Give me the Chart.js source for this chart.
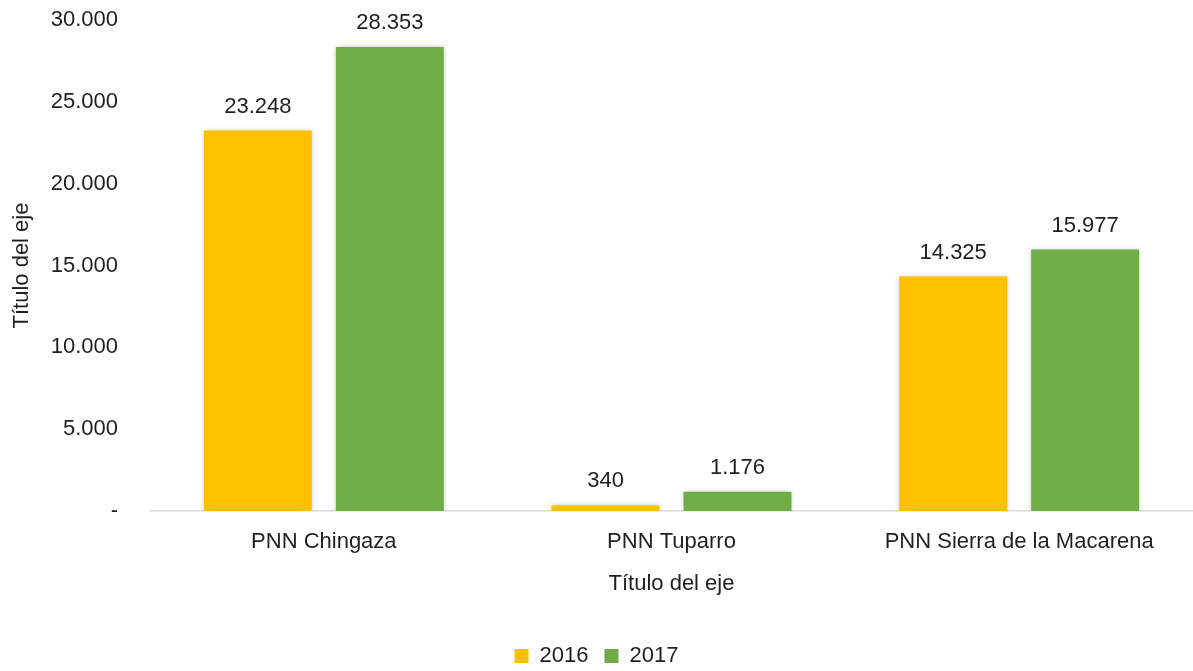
<!DOCTYPE html>
<html>
<head>
<meta charset="utf-8">
<script src="https://cdn.jsdelivr.net/npm/chart.js@4.4.1/dist/chart.umd.min.js"></script>
<style>
  html, body { margin: 0; padding: 0; background: #ffffff; }
  #wrap { width: 1193px; height: 671px; position: relative; }
</style>
</head>
<body>
<div id="wrap"><canvas id="c"></canvas></div>
<script>
const categories = ["PNN Chingaza", "PNN Tuparro", "PNN Sierra de la Macarena"];
const seriesNames = ["2016", "2017"];
const values2016 = [23248, 340, 14325];
const values2017 = [28353, 1176, 15977];
const yTicks = [0, 5000, 10000, 15000, 20000, 25000, 30000];
const axisTitleX = "Título del eje";
const axisTitleY = "Título del eje";

const FONT = "'Liberation Sans', Arial, sans-serif";
const FS = 22;
const TEXT = "#1f1f1f";

function fmt(v) {
  if (v === 0) return "-";
  return String(Math.round(v)).replace(/\B(?=(\d{3})+(?!\d))/g, ".");
}

const shadowPlugin = {
  id: "barShadow",
  beforeDatasetsDraw(chart) {
    const ctx = chart.ctx;
    ctx.save();
    ctx.shadowColor = "rgba(0,0,0,0.28)";
    ctx.shadowBlur = 5;
    ctx.shadowOffsetX = 0;
    ctx.shadowOffsetY = 0;
  },
  afterDatasetsDraw(chart) {
    chart.ctx.restore();
  }
};

const labelPlugin = {
  id: "valueLabels",
  afterDatasetsDraw(chart) {
    const ctx = chart.ctx;
    ctx.save();
    ctx.font = FS + "px " + FONT;
    ctx.fillStyle = TEXT;
    ctx.textAlign = "center";
    ctx.textBaseline = "alphabetic";
    chart.data.datasets.forEach((ds, i) => {
      const meta = chart.getDatasetMeta(i);
      meta.data.forEach((bar, j) => {
        ctx.fillText(fmt(ds.data[j]), bar.x, bar.y - 18);
      });
    });
    ctx.restore();
  }
};

new Chart(document.getElementById("c"), {
  type: "bar",
  data: {
    labels: categories,
    datasets: [
      { label: seriesNames[0], data: values2016, backgroundColor: "#FFC000", borderWidth: 0 },
      { label: seriesNames[1], data: values2017, backgroundColor: "#70AD47", borderWidth: 0 }
    ]
  },
  options: {
    responsive: true,
    maintainAspectRatio: false,
    animation: false,
    devicePixelRatio: 1,
    layout: { padding: { top: 20, right: 0, bottom: 0, left: 0 } },
    datasets: { bar: { categoryPercentage: 0.759, barPercentage: 0.818 } },
    plugins: {
      tooltip: { enabled: false },
      legend: {
        position: "bottom",
        maxHeight: 42,
        labels: {
          boxWidth: 14,
          boxHeight: 14,
          padding: 16,
          color: TEXT,
          font: { family: FONT, size: FS }
        }
      }
    },
    scales: {
      x: {
        afterFit(scale) { scale.height = 118; },
        grid: { display: false, drawTicks: false },
        border: { display: true, color: "#d9d9d9", width: 1.5 },
        ticks: { color: TEXT, padding: 18, font: { family: FONT, size: FS } },
        title: {
          display: true, text: axisTitleX, color: TEXT,
          font: { family: FONT, size: FS },
          padding: { top: 0, bottom: 32 }
        }
      },
      y: {
        min: 0, max: 30000,
        afterBuildTicks(scale) { scale.ticks = yTicks.map(v => ({ value: v })); },
        afterFit(scale) { scale.width = 150; scale.paddingTop = 0; scale.paddingBottom = 0; },
        grid: { display: false, drawTicks: false },
        border: { display: false },
        ticks: {
          color: TEXT, padding: 32,
          font: { family: FONT, size: FS },
          callback: (v) => fmt(v)
        },
        title: {
          display: true, text: axisTitleY, color: TEXT,
          font: { family: FONT, size: FS },
          padding: { top: 9, bottom: 0 }
        }
      }
    }
  },
  plugins: [shadowPlugin, labelPlugin]
});
</script>
</body>
</html>
